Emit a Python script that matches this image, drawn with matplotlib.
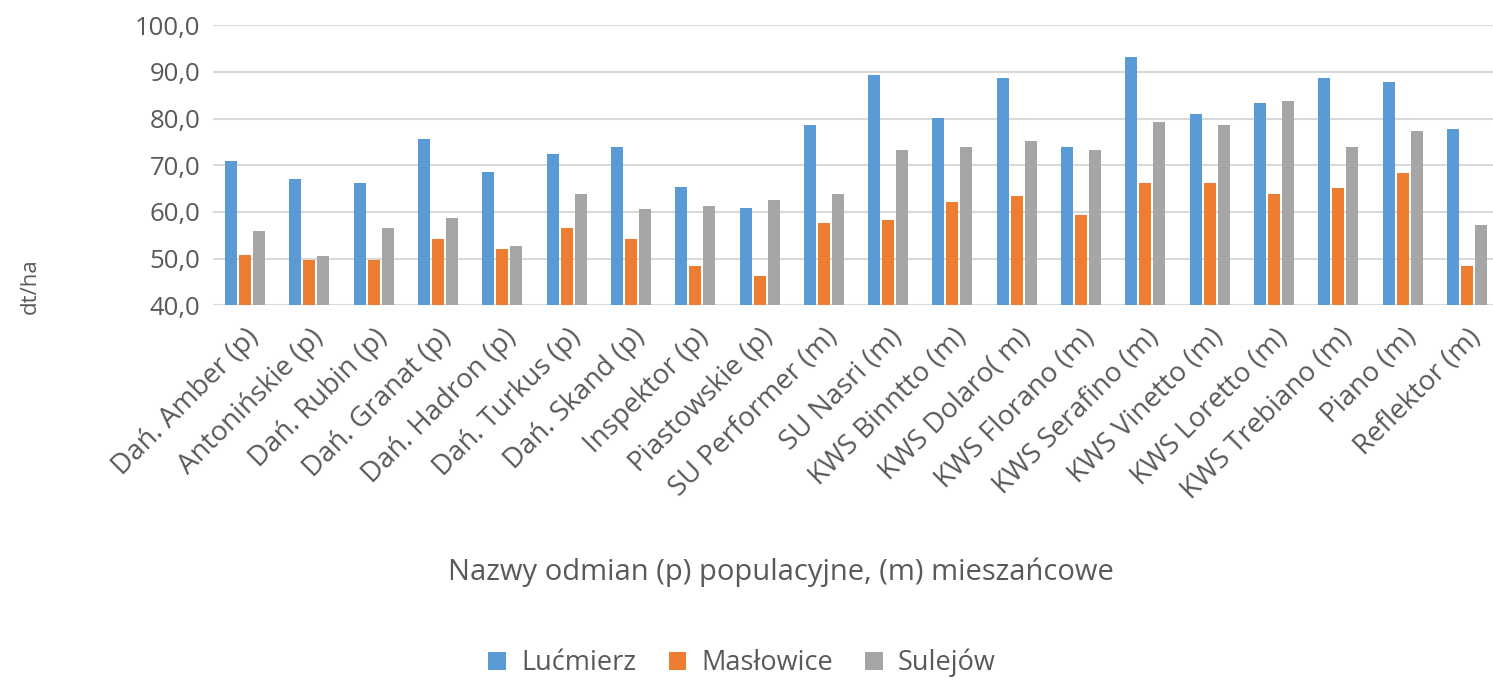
import numpy as np
import matplotlib.pyplot as plt
from matplotlib.ticker import FuncFormatter

plt.rcParams['font.family'] = ['Open Sans', 'DejaVu Sans']

odmiany = ['Dań. Amber (p)', 'Antonińskie (p)', 'Dań. Rubin (p)', 'Dań. Granat (p)',
           'Dań. Hadron (p)', 'Dań. Turkus (p)', 'Dań. Skand (p)', 'Inspektor (p)',
           'Piastowskie (p)', 'SU Performer (m)', 'SU Nasri (m)', 'KWS Binntto (m)',
           'KWS Dolaro( m)', 'KWS Florano (m)', 'KWS Serafino (m)', 'KWS Vinetto (m)',
           'KWS Loretto (m)', 'KWS Trebiano (m)', 'Piano (m)', 'Reflektor (m)']

lucmierz = [70.9, 67.1, 66.2, 75.6, 68.6, 72.4, 73.9, 65.4, 60.9, 78.6,
            89.4, 80.1, 88.7, 73.9, 93.2, 81.0, 83.4, 88.7, 87.9, 77.8]
maslowice = [50.8, 49.7, 49.7, 54.2, 52.1, 56.6, 54.2, 48.4, 46.3, 57.6,
             58.3, 62.1, 63.4, 59.4, 66.2, 66.2, 63.9, 65.1, 68.4, 48.4]
sulejow = [55.9, 50.6, 56.6, 58.7, 52.7, 63.9, 60.6, 61.3, 62.6, 63.9,
           73.3, 73.9, 75.2, 73.3, 79.3, 78.6, 83.8, 73.9, 77.4, 57.2]

series = [('Lućmierz', lucmierz, '#5B9BD5'),
          ('Masłowice', maslowice, '#ED7D31'),
          ('Sulejów', sulejow, '#A5A5A5')]

text_col = '#595959'

fig = plt.figure(figsize=(14.93, 6.80), dpi=100)
ax = fig.add_axes([213 / 1493, 1 - 305.3 / 680, 1286 / 1493, 280 / 680])

x = np.arange(len(odmiany))
w = 0.187
step = 0.218
for i, (name, vals, col) in enumerate(series):
    ax.bar(x + (i - 1) * step, np.array(vals) - 40, width=w, bottom=40,
           color=col, label=name, zorder=3)

ax.set_ylim(40, 100)
ax.set_xlim(-0.5, len(odmiany) - 0.5)
ax.set_yticks(np.arange(40, 101, 10))
ax.yaxis.set_major_formatter(FuncFormatter(lambda v, p: f'{v:.1f}'.replace('.', ',')))
ax.grid(axis='y', color='#D9D9D9', linewidth=1.5, zorder=0)
for s in ax.spines.values():
    s.set_visible(False)
ax.tick_params(axis='both', length=0, colors=text_col)
ax.tick_params(axis='y', labelsize=18.5, pad=9)
ax.set_xticks(x)
ax.set_xticklabels(odmiany, rotation=45, ha='right', rotation_mode='anchor',
                   fontsize=20, color=text_col)
ax.tick_params(axis='x', pad=13)

fig.text(30 / 1493, 1 - 286 / 680, 'dt/ha', rotation=90, ha='center', va='center',
         fontsize=16, color=text_col)
fig.text(781 / 1493, 1 - 572 / 680, 'Nazwy odmian (p) populacyjne, (m) mieszańcowe',
         ha='center', va='center', fontsize=21, color=text_col)

fig.legend(loc='center', bbox_to_anchor=(742 / 1493, 1 - 663 / 680), ncol=3,
           frameon=False, fontsize=19.5, handlelength=0.65, handleheight=0.65,
           handletextpad=0.55, columnspacing=1.2, labelcolor=text_col)

fig.savefig('out.png', dpi=100)
